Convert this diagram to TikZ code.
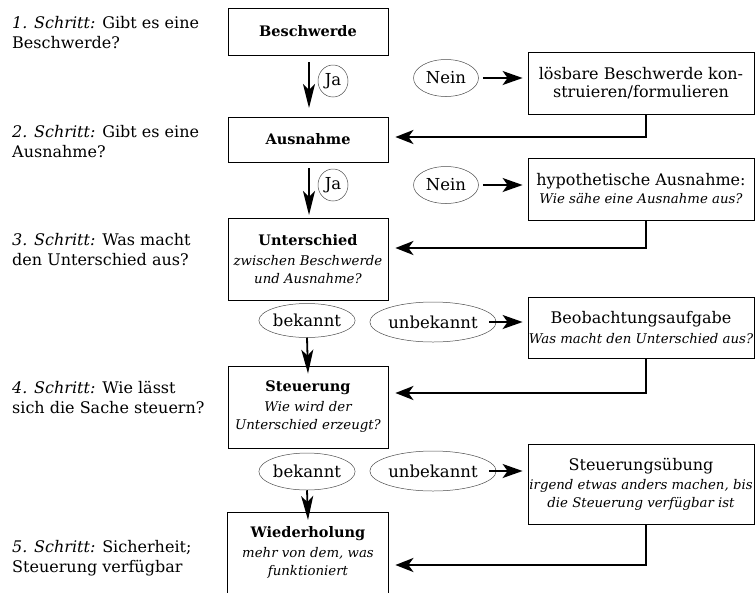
\documentclass[tikz,border=0pt]{standalone}
\usepackage{fontspec}
\setmainfont{DejaVu Serif}
\usetikzlibrary{arrows.meta,shapes.geometric}
\begin{document}
\begin{tikzpicture}[x=1pt,y=-1pt,
  box/.style={draw, line width=0.8pt, inner sep=0pt, align=center, font=\fontsize{13.3}{18}\selectfont},
  stepnote/.style={anchor=north west, align=left, inner sep=0pt, font=\fontsize{16}{20}\selectfont},
  oval/.style={draw, ellipse, line width=0.5pt, draw=black!70, inner sep=0pt, font=\fontsize{16.5}{18}\selectfont},
  flow/.style={line width=1.8pt, -{Stealth[length=24pt,width=12pt,inset=6pt]}},
  side/.style={line width=1.8pt, -{Stealth[length=20pt,width=14pt,inset=5pt]}},
  back/.style={line width=2.4pt, -{Stealth[length=18pt,width=14pt,inset=5pt]}},
]
\useasboundingbox (0,0) rectangle (755,592);
\newcommand{\itx}{\fontsize{13.3}{18}\selectfont\itshape}
\newcommand{\rgx}{\fontsize{16}{18}\selectfont}
\newcommand{\ttx}{\fontsize{14.5}{18}\selectfont\bfseries}

% left step notes
\node[stepnote] (s1) at (12,16) {\textit{1. Schritt:} Gibt es eine\\Beschwerde?};
\node[stepnote] (s2) at (12,125) {\textit{2. Schritt:} Gibt es eine\\Ausnahme?};
\node[stepnote] (s3) at (12,233) {\textit{3. Schritt:} Was macht\\den Unterschied aus?};
\node[stepnote] (s4) at (12,381) {\textit{4. Schritt:} Wie lässt\\sich die Sache steuern?};
\node[stepnote] (s5) at (12,540) {\textit{5. Schritt:} Sicherheit;\\Steuerung verfügbar};

% main column boxes
\node[box, minimum width=160pt, minimum height=47pt, font=\ttx] (b1) at (308,31.5) {Beschwerde};
\node[box, minimum width=160pt, minimum height=45pt, font=\ttx] (b2) at (308,139.5) {Ausnahme};
\node[box, minimum width=160pt, minimum height=82pt] (b3) at (308,259) {{\ttx Unterschied}\\[2pt]{\itx zwischen Beschwerde}\\{\itx und Ausnahme?}};
\node[box, minimum width=160pt, minimum height=82pt] (b4) at (308,407) {{\ttx Steuerung}\\[2pt]{\itx Wie wird der}\\{\itx Unterschied erzeugt?}};
\node[box, draw=none, minimum width=160pt, minimum height=80pt, anchor=north] (b5) at (308,512) {{\ttx Wiederholung}\\[2pt]{\itx mehr von dem, was}\\{\itx funktioniert}};
\draw[line width=0.8pt] ([yshift=-6pt]b5.south west) -- (b5.north west) -- (b5.north east) -- ([yshift=-6pt]b5.south east);

% right column boxes
\node[box, minimum width=226pt, minimum height=62pt, font=\rgx] (r1) at (641,83) {lösbare Beschwerde kon-\\struieren/formulieren};
\node[box, minimum width=226pt, minimum height=62pt] (r2) at (641,189) {{\rgx hypothetische Ausnahme:}\\{\itx Wie sähe eine Ausnahme aus?}};
\node[box, minimum width=226pt, minimum height=61pt] (r3) at (641,327.5) {{\rgx Beobachtungsaufgabe}\\[2pt]{\itx Was macht den Unterschied aus?}};
\node[box, minimum width=226pt, minimum height=80pt] (r4) at (641,484) {{\rgx Steuerungsübung}\\[1pt]{\itx irgend etwas anders machen, bis}\\{\itx die Steuerung verfügbar ist}};

% ovals
\node[oval, minimum width=30pt, minimum height=32pt] (ja1) at (333,81) {Ja};
\node[oval, minimum width=30pt, minimum height=32pt] (ja2) at (333,185) {Ja};
\node[oval, minimum width=65pt, minimum height=37pt] (n1) at (446,78) {Nein};
\node[oval, minimum width=65pt, minimum height=37pt] (n2) at (446,185) {Nein};
\node[oval, minimum width=83pt, minimum height=34pt] (k1) at (307,320.5) {bekannt};
\node[oval, minimum width=83pt, minimum height=37pt] (k2) at (307,471.5) {bekannt};
\node[oval, minimum width=113pt, minimum height=40pt] (u1) at (433,322) {unbekannt};
\node[oval, minimum width=113pt, minimum height=40pt] (u2) at (433,471) {unbekannt};

% helper coordinates
\coordinate (t1) at (309,62);
\coordinate (h1) at (309,108);
\coordinate (t2) at (309,168);
\coordinate (h2) at (309,215);

% downward flow
\draw[flow] (t1) -- (h1);
\draw[flow] (t2) -- (h2);
\draw[flow] (k1.south) -- ([yshift=-8pt]b4.north);
\draw[flow] (k2.south) -- ([yshift=-8pt]b5.north);

% to right boxes
\draw[side] ([xshift=4pt]n1.east) -- ([xshift=-5pt]r1.west |- n1.east);
\draw[side] ([xshift=4pt]n2.east) -- ([xshift=-5pt]r2.west |- n2.east);
\draw[side] ([xshift=-7pt]u1.east) -- ([xshift=-5pt]r3.west |- u1.east);
\draw[side] ([xshift=-7pt]u2.east) -- ([xshift=-5pt]r4.west |- u2.east);

% back connectors
\coordinate (c1) at (646,137);
\coordinate (c2) at (646,248);
\coordinate (c3) at (646,393);
\coordinate (c4) at (646,565);
\draw[back] (r1.south -| c1) -- (c1) -- ([xshift=7pt]b2.east |- c1);
\draw[back] (r2.south -| c2) -- (c2) -- ([xshift=7pt]b3.east |- c2);
\draw[back] (r3.south -| c3) -- (c3) -- ([xshift=7pt]b4.east |- c3);
\draw[back] (r4.south -| c4) -- (c4) -- ([xshift=7pt]b5.east |- c4);
\end{tikzpicture}
\end{document}
